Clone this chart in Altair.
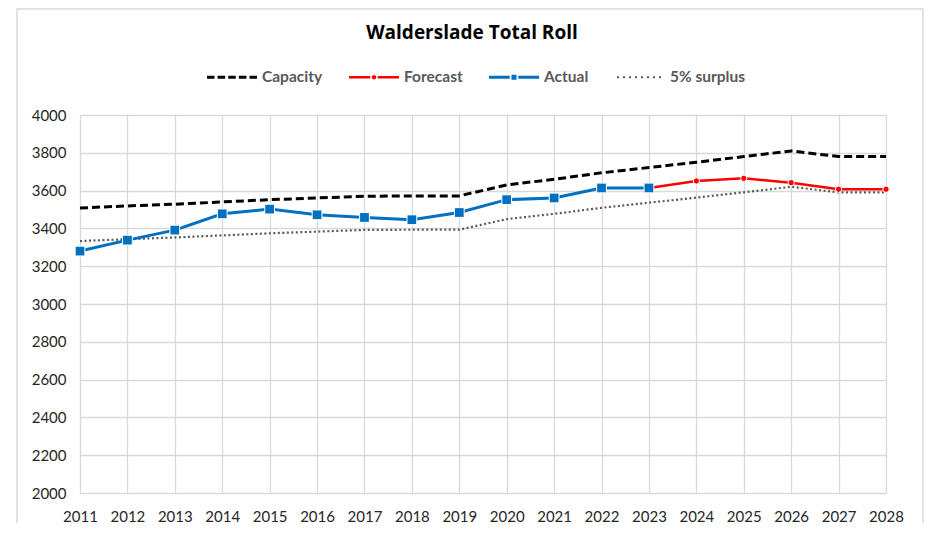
import altair as alt
import pandas as pd

years = list(range(2011, 2029))
capacity = [3508, 3519, 3528, 3540, 3552, 3561, 3570, 3572, 3572, 3630, 3660, 3694, 3722, 3750, 3780, 3810, 3780, 3780]
surplus = [3333, 3343, 3352, 3363, 3374, 3383, 3392, 3393, 3393, 3449, 3477, 3509, 3536, 3563, 3591, 3620, 3591, 3591]
actual_years = list(range(2011, 2024))
actual = [3280, 3338, 3391, 3477, 3502, 3472, 3458, 3446, 3484, 3552, 3561, 3614, 3614]
forecast_years = list(range(2023, 2029))
forecast = [3614, 3651, 3665, 3642, 3607, 3607]

series_names = ["Capacity", "Forecast", "Actual", "5% surplus"]
series_colors = ["#000000", "#FF0000", "#0070C0", "#595959"]

FONT = "Lato"

df_cap = pd.DataFrame({"year": years, "value": capacity, "series": "Capacity"})
df_sur = pd.DataFrame({"year": years, "value": surplus, "series": "5% surplus"})
df_act = pd.DataFrame({"year": actual_years, "value": actual, "series": "Actual"})
df_fc = pd.DataFrame({"year": forecast_years, "value": forecast, "series": "Forecast"})
df_all = pd.concat([df_cap, df_fc, df_act, df_sur], ignore_index=True)


# legend symbol paths (style only)
def rect(x0, x1, h):
    return f"M{x0:.3f},{-h:.3f}H{x1:.3f}V{h:.3f}H{x0:.3f}Z"


def circle(r):
    return f"M{-r},0A{r},{r} 0 1,0 {r},0A{r},{r} 0 1,0 {-r},0Z"


cap_path = " ".join(rect(-1 + i * 0.425, -1 + i * 0.425 + 0.30, 0.06) for i in range(5))
fc_path = rect(-1, -0.15, 0.05) + " " + rect(0.15, 1, 0.05) + " " + circle(0.09)
act_path = rect(-1, -0.17, 0.06) + " " + rect(0.17, 1, 0.06) + " " + rect(-0.1, 0.1, 0.1)
sur_path = " ".join(rect(-0.92 + i * 0.24, -0.92 + i * 0.24 + 0.08, 0.04) for i in range(8))
shape_paths = [cap_path, fc_path, act_path, sur_path]

x_enc = alt.X(
    "year:Q",
    scale=alt.Scale(domain=[2011, 2028], nice=False, zero=False),
    axis=alt.Axis(values=years, format="d", title=None, ticks=False, domain=False,
                  labelPadding=16, labelFontSize=15, labelFont=FONT, labelColor="#262626",
                  gridColor="#d9d9d9", gridWidth=1.3, labelFlush=False),
)
y_enc = alt.Y(
    "value:Q",
    scale=alt.Scale(domain=[2000, 4000], nice=False, zero=False),
    axis=alt.Axis(values=list(range(2000, 4001, 200)), format="d", title=None, ticks=False,
                  domain=False, labelPadding=14, labelFontSize=15, labelFont=FONT,
                  labelColor="#262626", gridColor="#d9d9d9", gridWidth=1.3),
)

border = alt.Chart(pd.DataFrame({"k": [0]})).mark_rect(
    fill=None, stroke="#d9d9d9", strokeWidth=1.5
).encode(x=alt.value(-63), x2=alt.value(843), y=alt.value(-106), y2=alt.value(440))

sur_line = alt.Chart(df_sur).mark_line(
    color="#595959", strokeWidth=2.2, strokeDash=[2, 2.5]
).encode(x=x_enc, y=y_enc)

cap_line = alt.Chart(df_cap).mark_line(
    color="#000000", strokeWidth=3, strokeDash=[8, 4]
).encode(x=x_enc, y=y_enc)

fc_line = alt.Chart(df_fc).mark_line(
    color="#FF0000", strokeWidth=2.5
).encode(x=x_enc, y=y_enc)
fc_pts = alt.Chart(df_fc).mark_point(
    shape="circle", filled=True, fill="#FF0000", stroke="white", strokeWidth=1, size=40, opacity=1
).encode(x=x_enc, y=y_enc)

act_line = alt.Chart(df_act).mark_line(
    color="#0070C0", strokeWidth=3
).encode(x=x_enc, y=y_enc)
act_pts = alt.Chart(df_act).mark_point(
    shape="square", filled=True, fill="#0070C0", stroke="white", strokeWidth=1, size=95, opacity=1
).encode(x=x_enc, y=y_enc)

legend = alt.Legend(
    title=None, orient="none", direction="horizontal", legendX=127, legendY=-63,
    symbolSize=2500, symbolStrokeWidth=0, symbolOpacity=1, labelFont=FONT, labelFontSize=15.5,
    labelFontWeight="bold", labelColor="#595959", labelOffset=5, columnPadding=26,
    padding=0,
)

legend_layer = alt.Chart(df_all).mark_point(filled=True, opacity=0, size=1).encode(
    x=x_enc, y=y_enc,
    color=alt.Color("series:N", scale=alt.Scale(domain=series_names, range=series_colors),
                    sort=series_names, legend=legend),
    shape=alt.Shape("series:N", scale=alt.Scale(domain=series_names, range=shape_paths),
                    sort=series_names, legend=legend),
)

chart = alt.layer(
    border, legend_layer, sur_line, cap_line, fc_line, fc_pts, act_line, act_pts
).properties(
    width=806, height=378,
    title=alt.TitleParams("Walderslade Total Roll", font="Open Sans", fontSize=19, fontWeight="bold",
                          color="#000000", anchor="middle", frame="group", dx=-11, offset=-35),
    autosize=alt.AutoSizeParams(type="none"),
    padding={"left": 72, "top": 107, "right": 38, "bottom": 30},
).configure_view(stroke="#d9d9d9", strokeWidth=1.3).configure(background="white")

chart.save("out.html", embed_options={"renderer": "svg", "actions": False})
